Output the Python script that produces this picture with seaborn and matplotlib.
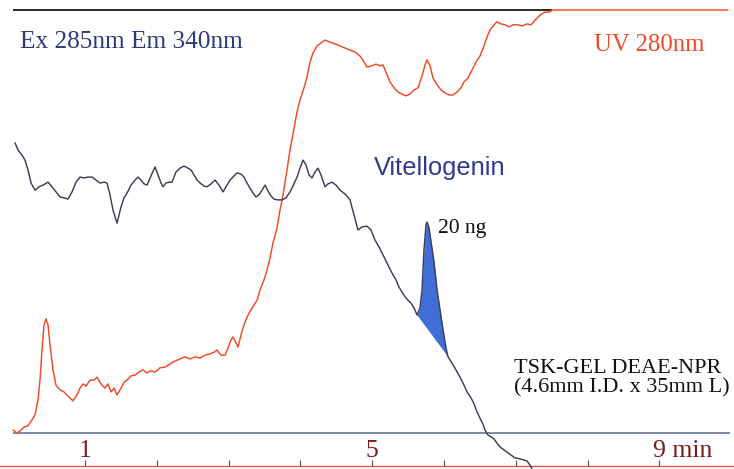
import numpy as np
import seaborn as sns
import matplotlib.pyplot as plt

# retention time (min) / detector response (relative units, 100 = full scale)
uv_time = [0.0, 0.053, 0.095, 0.150, 0.206, 0.262, 0.304, 0.345, 0.373, 0.401,
           0.429, 0.457, 0.485, 0.513, 0.554, 0.596, 0.652, 0.708, 0.763, 0.833,
           0.889, 0.930, 0.972, 1.014, 1.070, 1.125, 1.167, 1.223, 1.279, 1.320,
           1.362, 1.404, 1.446, 1.501, 1.543, 1.585, 1.641, 1.696, 1.752, 1.808,
           1.864, 1.919, 1.975, 2.045, 2.114, 2.184, 2.226, 2.295, 2.351, 2.393,
           2.462, 2.532, 2.602, 2.671, 2.741, 2.797, 2.838, 2.894, 2.950, 2.992,
           3.033, 3.061, 3.103, 3.131, 3.173, 3.214, 3.256, 3.312, 3.354, 3.396,
           3.437, 3.493, 3.535, 3.577, 3.618, 3.674, 3.716, 3.758, 3.813, 3.855,
           3.911, 3.953, 3.994, 4.050, 4.092, 4.134, 4.175, 4.231, 4.287, 4.343,
           4.412, 4.482, 4.552, 4.621, 4.691, 4.760, 4.830, 4.886, 4.928, 4.997,
           5.053, 5.109, 5.150, 5.192, 5.248, 5.304, 5.359, 5.415, 5.471, 5.526,
           5.582, 5.638, 5.694, 5.735, 5.763, 5.805, 5.847, 5.903, 5.958, 6.014,
           6.070, 6.125, 6.181, 6.237, 6.279, 6.334, 6.390, 6.446, 6.501, 6.557,
           6.599, 6.641, 6.682, 6.738, 6.794, 6.850, 6.905, 6.961, 7.031, 7.086,
           7.156, 7.212, 7.267, 7.337, 7.407, 7.462, 7.518, 9.955]
uv_signal = [0.7, 0.0, 0.5, 1.4, 1.7, 3.1, 4.3, 7.8, 12.5, 19.6,
             25.5, 27.0, 25.5, 20.8, 14.9, 11.3, 10.2, 9.7, 8.7, 7.6,
             9.0, 10.6, 11.6, 11.1, 12.5, 12.5, 13.2, 11.6, 10.6, 11.6,
             9.7, 10.6, 9.0, 10.6, 12.0, 12.5, 13.5, 13.7, 14.4, 14.9,
             14.2, 14.7, 14.4, 15.4, 15.6, 16.3, 16.8, 17.3, 17.7, 18.0,
             17.5, 18.0, 17.7, 18.4, 18.7, 19.1, 19.6, 18.4, 18.4, 20.1,
             22.0, 22.7, 21.3, 20.3, 23.2, 25.5, 27.4, 29.1, 30.3, 31.4,
             33.8, 36.2, 38.5, 41.4, 44.9, 48.5, 52.7, 56.3, 62.2, 66.9,
             72.1, 75.9, 78.7, 81.6, 84.2, 87.7, 89.8, 91.5, 92.2, 92.9,
             92.4, 92.0, 91.5, 91.0, 90.5, 90.1, 89.1, 87.7, 86.5, 86.8,
             87.2, 86.8, 87.0, 85.3, 83.0, 81.6, 80.6, 80.1, 79.7, 80.1,
             81.1, 81.6, 84.4, 87.0, 88.2, 86.8, 83.9, 82.3, 81.1, 80.4,
             79.9, 79.9, 80.6, 81.6, 83.0, 83.9, 85.8, 87.7, 89.1, 91.5,
             93.6, 95.3, 96.2, 97.2, 96.7, 96.5, 96.0, 96.5, 96.5, 96.2,
             96.7, 96.5, 97.6, 98.8, 99.5, 99.5, 100.0, 100.0]

fl_time = [0.025, 0.067, 0.123, 0.164, 0.206, 0.248, 0.304, 0.359, 0.415, 0.485,
           0.540, 0.596, 0.652, 0.708, 0.763, 0.819, 0.875, 0.930, 0.986, 1.042,
           1.098, 1.153, 1.209, 1.265, 1.306, 1.348, 1.390, 1.446, 1.501, 1.543,
           1.585, 1.641, 1.696, 1.738, 1.780, 1.822, 1.864, 1.919, 1.975, 2.017,
           2.059, 2.086, 2.128, 2.170, 2.212, 2.267, 2.323, 2.379, 2.435, 2.476,
           2.518, 2.560, 2.602, 2.657, 2.699, 2.755, 2.811, 2.866, 2.922, 2.978,
           3.020, 3.061, 3.117, 3.173, 3.214, 3.256, 3.298, 3.340, 3.382, 3.424,
           3.465, 3.507, 3.549, 3.591, 3.632, 3.688, 3.744, 3.800, 3.855, 3.897,
           3.953, 3.994, 4.036, 4.078, 4.120, 4.162, 4.203, 4.245, 4.287, 4.343,
           4.385, 4.440, 4.496, 4.552, 4.607, 4.649, 4.691, 4.747, 4.802, 4.858,
           4.928, 4.983, 5.039, 5.095, 5.165, 5.220, 5.276, 5.331, 5.373, 5.415,
           5.457, 5.499, 5.540, 5.582, 5.624, 5.666, 5.694, 5.721, 5.749, 5.763,
           5.791, 5.819, 5.861, 5.903, 5.944, 5.986, 6.028, 6.056, 6.112, 6.167,
           6.223, 6.279, 6.321, 6.376, 6.418, 6.460, 6.501, 6.543, 6.571, 6.613,
           6.655, 6.697, 6.738, 6.780, 6.836, 6.892, 6.947, 6.989, 7.059, 7.114,
           7.156, 7.198, 7.226, 7.254]
fl_signal = [68.6, 66.9, 65.7, 64.5, 62.2, 59.1, 57.4, 58.2, 58.6, 59.3,
             58.2, 57.0, 55.8, 55.6, 55.3, 57.0, 59.3, 60.5, 60.3, 60.5,
             60.5, 59.8, 59.1, 59.3, 59.1, 56.3, 52.7, 49.6, 53.4, 55.6,
             56.7, 58.6, 59.8, 60.5, 59.8, 58.9, 58.6, 60.8, 62.9, 61.0,
             59.1, 58.2, 59.1, 59.3, 59.3, 61.7, 62.6, 63.1, 62.6, 62.2,
             61.0, 59.8, 59.1, 58.4, 58.2, 58.9, 59.8, 58.6, 57.0, 58.6,
             59.8, 60.5, 61.5, 61.2, 60.5, 59.1, 57.9, 56.7, 55.8, 56.3,
             57.4, 58.6, 57.2, 56.0, 55.3, 55.1, 55.1, 55.6, 57.0, 58.4,
             60.5, 62.6, 64.5, 63.4, 61.0, 60.3, 61.7, 62.6, 61.0, 58.2,
             58.9, 59.3, 58.6, 57.4, 56.7, 56.0, 55.1, 51.5, 48.0, 48.7,
             48.9, 48.0, 45.6, 44.0, 41.6, 39.7, 37.8, 36.2, 34.5, 33.3,
             32.2, 31.4, 30.7, 29.6, 27.9, 29.6, 33.8, 43.3, 49.2, 49.9,
             48.5, 45.2, 40.4, 33.8, 29.1, 24.4, 20.1, 18.0, 16.5, 14.9,
             13.2, 11.3, 9.7, 8.3, 6.9, 5.0, 3.5, 2.1, 0.7, -0.5,
             -0.9, -1.4, -2.4, -3.3, -4.0, -4.7, -5.4, -5.9, -6.1, -6.4,
             -6.6, -7.6, -8.5, -9.7]

# vitellogenin peak: start / end of the integration (drop line)
peak_start, peak_end = 5.624, 6.056

minute_ticks = [1, 2, 3, 4, 5, 6, 7, 8, 9]
minute_labels = {1: "1", 5: "5", 9: "9 min"}


def main():
    sns.set_theme(style="white")
    plt.rcParams["font.family"] = ["Liberation Serif", "DejaVu Serif"]

    fig = plt.figure(figsize=(7.34, 4.69), dpi=100)
    ax = fig.add_axes([0, 0, 1, 1])
    ax.set_xlim(-0.184, 10.039)
    ax.set_ylim(-8.51, 102.36)

    # frame: full-scale line on top, zero baseline
    ax.hlines(100, 0, 7.5, color="#1a1a1a", lw=1.3, zorder=1)
    ax.hlines(0, 0, 9.98, color="#5b6a8e", lw=1.1, zorder=1)

    # traces
    sns.lineplot(x=uv_time, y=uv_signal, ax=ax, color="#f04a25", lw=1.05,
                 sort=False, estimator=None, zorder=3)
    sns.lineplot(x=fl_time, y=fl_signal, ax=ax, color="#3c3f58", lw=1.05,
                 sort=False, estimator=None, zorder=3)

    # shaded vitellogenin peak above the drop line
    t = np.array(fl_time)
    s = np.array(fl_signal)
    m = (t >= peak_start) & (t <= peak_end)
    base = np.interp(t[m], [peak_start, peak_end],
                     [np.interp(peak_start, t, s), np.interp(peak_end, t, s)])
    ax.fill_between(t[m], base, s[m], color="#3f6fd6", lw=0, zorder=2)

    # time axis at the bottom
    for side in ["top", "left", "right"]:
        ax.spines[side].set_visible(False)
    ax.spines["bottom"].set_position(("data", -7.8))
    ax.spines["bottom"].set_color("#d9534f")
    ax.spines["bottom"].set_linewidth(1.0)
    ax.set_xticks(minute_ticks)
    ax.set_xticklabels([])
    ax.set_yticks([])
    ax.tick_params(axis="x", direction="in", length=4, width=0.8,
                   color="#555555", bottom=True)
    for m_, lab in minute_labels.items():
        ha = "left" if len(lab) > 1 else "center"
        xpos = m_ - 0.085 if len(lab) > 1 else m_
        ax.text(xpos, -5.7, lab, ha=ha, va="baseline", fontsize=18.5,
                color="#7a1c1c")

    # annotations
    ax.text(0.095, 91.0, "Ex 285nm Em 340nm", fontsize=18.2, color="#2d3a78",
            va="baseline")
    ax.text(8.089, 90.3, "UV 280nm", fontsize=17.8, color="#ef4a2a",
            va="baseline")
    ax.text(5.025, 61.0, "Vitellogenin", fontsize=18.3, color="#2f3b8c",
            va="baseline", family=["Liberation Sans", "DejaVu Sans"])
    ax.text(5.917, 47.3, "20 ng", fontsize=15.5, color="#111111", va="baseline")
    ax.text(6.975, 14.2, "TSK-GEL DEAE-NPR", fontsize=16, color="#111111",
            va="baseline")
    ax.text(6.975, 9.5, "(4.6mm I.D. x 35mm L)", fontsize=16,
            color="#111111", va="baseline")

    fig.savefig("out.png", dpi=100)


if __name__ == "__main__":
    main()
